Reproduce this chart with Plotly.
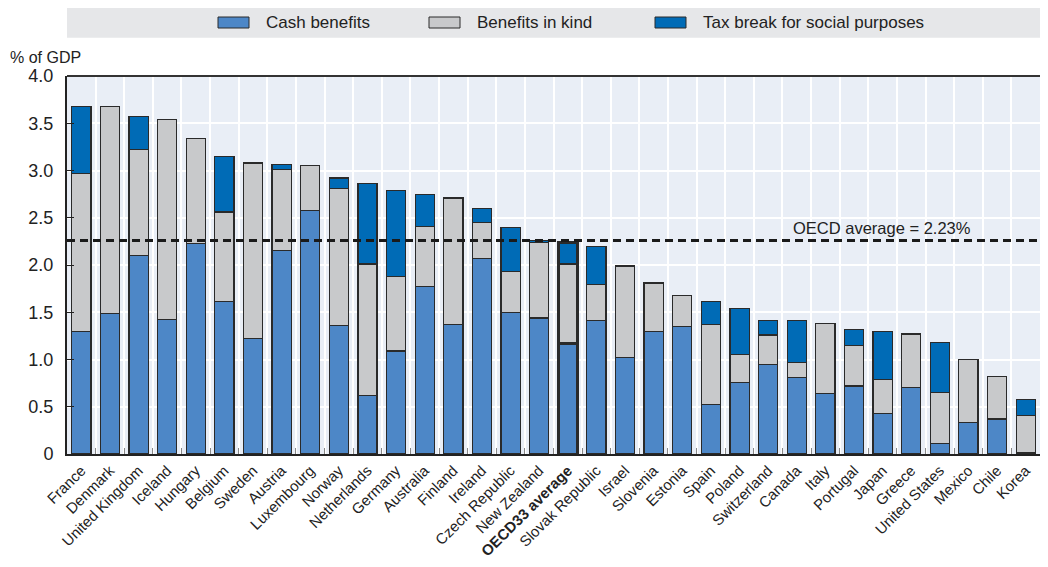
import plotly.graph_objects as go

countries = ["France", "Denmark", "United Kingdom", "Iceland", "Hungary", "Belgium", "Sweden",
             "Austria", "Luxembourg", "Norway", "Netherlands", "Germany", "Australia", "Finland",
             "Ireland", "Czech Republic", "New Zealand", "OECD33 average", "Slovak Republic",
             "Israel", "Slovenia", "Estonia", "Spain", "Poland", "Switzerland", "Canada", "Italy",
             "Portugal", "Japan", "Greece", "United States", "Mexico", "Chile", "Korea"]

cash_benefits = [1.30, 1.49, 2.10, 1.42, 2.23, 1.61, 1.22, 2.15, 2.58, 1.36, 0.62, 1.09, 1.77, 1.37,
                 2.07, 1.50, 1.44, 1.17, 1.41, 1.02, 1.30, 1.35, 0.52, 0.76, 0.95, 0.81, 0.64,
                 0.72, 0.43, 0.70, 0.11, 0.33, 0.37, 0.02]
benefits_in_kind = [1.67, 2.19, 1.12, 2.12, 1.11, 0.95, 1.86, 0.86, 0.47, 1.45, 1.39, 0.79, 0.64, 1.34,
                    0.38, 0.43, 0.80, 0.84, 0.38, 0.97, 0.51, 0.33, 0.85, 0.29, 0.31, 0.16, 0.74,
                    0.43, 0.36, 0.57, 0.54, 0.67, 0.45, 0.39]
tax_breaks = [0.71, 0.00, 0.35, 0.00, 0.00, 0.59, 0.00, 0.05, 0.00, 0.11, 0.85, 0.91, 0.34, 0.00,
              0.15, 0.47, 0.02, 0.23, 0.41, 0.00, 0.00, 0.00, 0.24, 0.49, 0.15, 0.44, 0.00,
              0.17, 0.51, 0.00, 0.53, 0.00, 0.00, 0.17]

oecd_average_line = 2.26
oecd_average_label = "OECD average = 2.23%"
highlight = "OECD33 average"

y_ticks = [0, 0.5, 1.0, 1.5, 2.0, 2.5, 3.0, 3.5, 4.0]
y_ticktext = ["0", "0.5", "1.0", "1.5", "2.0", "2.5", "3.0", "3.5", "4.0"]

series_names = ["Cash benefits", "Benefits in kind", "Tax break for social purposes"]
series_colors = ["#4D87C7", "#C8C9CB", "#006BB6"]

FONT = "Liberation Sans, Arial, sans-serif"
TXT = "#222222"

# page body has an 8px margin; figure sized to fit the window
W, H = 1032, 551
ML, MT, MB, MR = 59, 68, 105, 0
PW = W - ML - MR
PH = H - MT - MB


def px(sx):  # screen x -> paper x
    return (sx - 8 - ML) / PW


def py(sy):  # screen y -> paper y
    return (H - MB - (sy - 8)) / PH


line_widths = [2.6 if c == highlight else 1.2 for c in countries]
ticktext = ["<b>%s</b>" % c if c == highlight else c for c in countries]

fig = go.Figure()
for name, vals, col in zip(series_names, [cash_benefits, benefits_in_kind, tax_breaks], series_colors):
    fig.add_trace(go.Bar(
        x=countries, y=vals, name=name, showlegend=False,
        marker=dict(color=col, line=dict(color="#2a2a2a", width=line_widths)),
    ))

fig.add_shape(type="line", xref="paper", x0=0, x1=1, yref="y",
              y0=oecd_average_line, y1=oecd_average_line,
              line=dict(color="#1a1a1a", width=3, dash="8px,5px"), layer="above")
fig.add_annotation(xref="paper", x=px(791), y=oecd_average_line, yref="y",
                   text=oecd_average_label, showarrow=False, xanchor="left", yanchor="bottom",
                   yshift=1, font=dict(family=FONT, size=16.5, color=TXT))

# legend band
fig.add_shape(type="rect", xref="paper", yref="paper", x0=0, x1=1.0, y0=py(37.7), y1=py(7),
              fillcolor="#E6E7E9", line=dict(width=0), layer="below")
legend_x = [218, 429, 655]
for name, col, lx in zip(series_names, series_colors, legend_x):
    fig.add_shape(type="rect", xref="paper", yref="paper", x0=px(lx), x1=px(lx + 31),
                  y0=py(28), y1=py(17),
                  fillcolor=col, line=dict(color="#2a2a2a", width=1))
    fig.add_annotation(xref="paper", yref="paper", x=px(lx + 46), y=py(22.5),
                       text=name, showarrow=False, xanchor="left", yanchor="middle",
                       font=dict(family=FONT, size=17, color=TXT))

fig.add_annotation(xref="paper", yref="paper", x=px(8), y=py(57), text="% of GDP",
                   showarrow=False, xanchor="left", yanchor="middle",
                   font=dict(family=FONT, size=16, color=TXT))

fig.update_layout(
    width=W, height=H,
    margin=dict(l=ML, r=MR, t=MT, b=MB, autoexpand=False),
    barmode="stack", bargap=0.33,
    plot_bgcolor="#E9EEF6", paper_bgcolor="white",
    font=dict(family=FONT, size=16, color=TXT),
    showlegend=False,
)
fig.update_xaxes(
    type="category", tickmode="array", tickvals=countries, ticktext=ticktext,
    tickangle=-45, tickson="boundaries", ticks="inside", ticklen=6, tickcolor="#888888",
    showgrid=True, gridcolor="white", gridwidth=1.5,
    showline=True, linecolor="#222222", linewidth=2, mirror=False,
    tickfont=dict(family=FONT, size=15, color=TXT), range=[-0.5, len(countries) - 0.5],
)
fig.update_yaxes(
    range=[0, 4.0], tickmode="array", tickvals=y_ticks, ticktext=y_ticktext,
    showgrid=True, gridcolor="white", gridwidth=1.5, zeroline=False,
    ticks="inside", ticklen=7, tickcolor="#222222", ticklabelstandoff=8,
    showline=True, linecolor="#222222", linewidth=2, mirror=False,
    tickfont=dict(family=FONT, size=18, color=TXT),
)
# top border
fig.add_shape(type="line", xref="paper", yref="paper", x0=0, x1=1, y0=1, y1=1,
              line=dict(color="#333333", width=2))

fig.write_html("out.html")
